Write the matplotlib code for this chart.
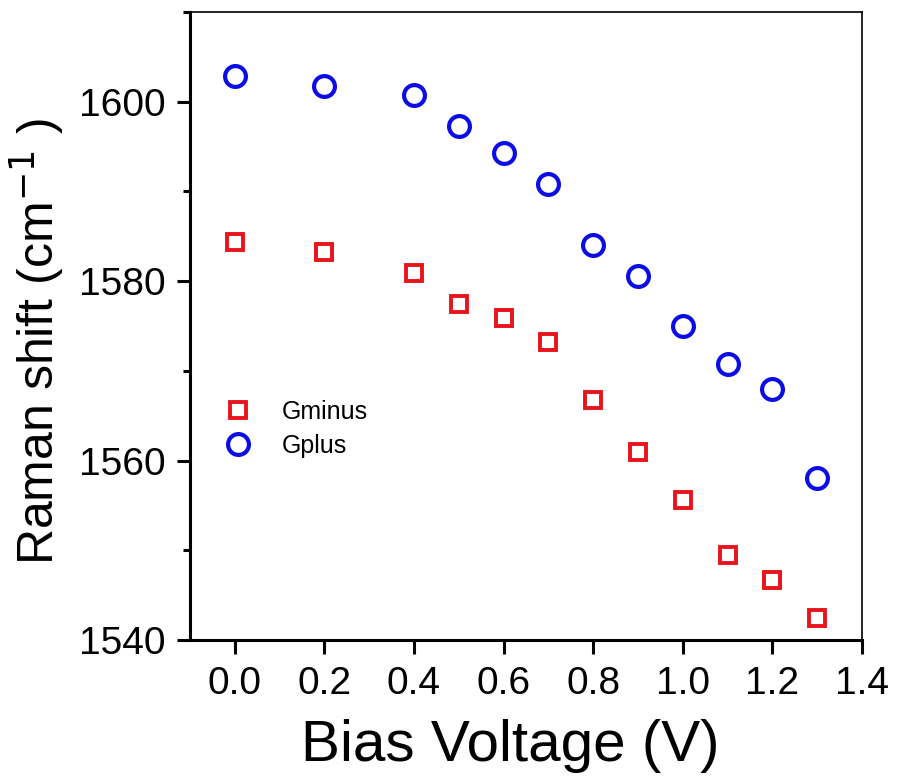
import matplotlib
matplotlib.use('Agg')
from matplotlib import pyplot as plt
from matplotlib.ticker import MultipleLocator

plt.rcParams['font.family'] = ['Liberation Sans', 'DejaVu Sans']

# bias voltage (V)
voltage = [0.0, 0.2, 0.4, 0.5, 0.6, 0.7, 0.8, 0.9, 1.0, 1.1, 1.2, 1.3]
# Raman shift (cm^-1)
gminus = [1584.4, 1583.2, 1580.9, 1577.5, 1575.9, 1573.2, 1566.7, 1561.0, 1555.6, 1549.5, 1546.7, 1542.5]
gplus = [1602.9, 1601.7, 1600.7, 1597.3, 1594.3, 1590.8, 1584.0, 1580.6, 1575.0, 1570.8, 1568.0, 1558.1]

fig = plt.figure(figsize=(8.99, 7.76), dpi=100)
ax = fig.add_axes([0.2113, 0.1753, 0.7476, 0.8092])

ax.plot(voltage, gminus, 's', mfc='none', mec='#e8141b', mew=2.8, ms=12, label='Gminus')
ax.plot(voltage, gplus, 'o', mfc='none', mec='#0c0ce6', mew=3.0, ms=15, label='Gplus')

ax.set_xlim(-0.1, 1.4)
ax.set_ylim(1540, 1610)
ax.xaxis.set_major_locator(MultipleLocator(0.2))
ax.set_yticks([1540, 1560, 1580, 1600])
ax.yaxis.set_minor_locator(MultipleLocator(10))

ax.tick_params(axis='both', which='both', direction='out', width=2.2, labelsize=28)
ax.tick_params(axis='x', which='major', length=10, pad=9)
ax.tick_params(axis='y', which='major', length=9.5, pad=8)
ax.tick_params(axis='y', which='minor', length=5)
ax.tick_params(axis='x', which='minor', bottom=False)
for side in ['left', 'bottom']:
    ax.spines[side].set_linewidth(2.2)
for side in ['top', 'right']:
    ax.spines[side].set_linewidth(1.2)

ax.set_xlabel('Bias Voltage (V)', fontsize=42)
ax.xaxis.set_label_coords(0.476, -0.126)
ax.set_ylabel('Raman shift (cm$^{-1}$ )', fontsize=36)
ax.yaxis.set_label_coords(-0.183, 0.475)

ax.legend(loc='center left', bbox_to_anchor=(0.005, 0.336), frameon=False, fontsize=18,
          handletextpad=0.75, labelspacing=0.38, borderaxespad=0.4)

plt.savefig('out.png', dpi=100)
